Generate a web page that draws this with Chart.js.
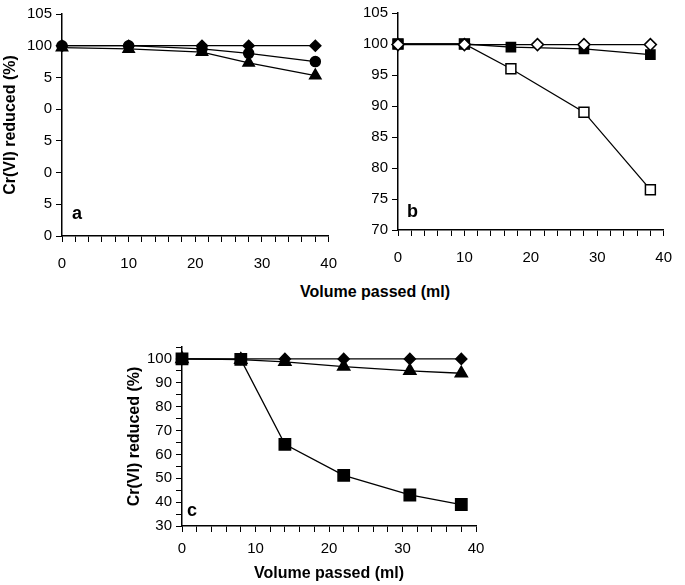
<!DOCTYPE html>
<html>
<head>
<meta charset="utf-8">
<script src="https://cdn.jsdelivr.net/npm/chart.js@4"></script>
<style>
  body { margin: 0; background: #fff; width: 685px; height: 585px; position: relative; overflow: hidden;
         font-family: "Liberation Sans", Arial, sans-serif; }
  canvas { position: absolute; }
  .tag { position: absolute; font-weight: bold; color: #000; font-size: 18px; line-height: 18px; }
  .xtitle { position: absolute; left: 275px; top: 282px; width: 200px; text-align: center;
            font-weight: bold; font-size: 16px; line-height: 20px; color: #000; }
</style>
</head>
<body>
<canvas id="chartA" width="350" height="270" style="left:0;top:0"></canvas>
<canvas id="chartB" width="345" height="270" style="left:340px;top:0"></canvas>
<canvas id="chartC" width="380" height="255" style="left:120px;top:330px"></canvas>
<div class="tag" style="left:72px;top:204px">a</div>
<div class="tag" style="left:407px;top:202px">b</div>
<div class="tag" style="left:187px;top:501px">c</div>
<div class="xtitle">Volume passed (ml)</div>

<script>
/* panel a */
const xA        = [0, 10, 21, 28, 38];
const aDiamond  = [100, 100, 100, 100, 100];
const aCircle   = [100, 100, 99.5, 98.8, 97.5];
const aTriangle = [99.7, 99.5, 99.0, 97.3, 95.3];
const yTicksA   = [70, 75, 80, 85, 90, 95, 100, 105];
const yLabelsA  = ['0', '5', '0', '5', '0', '5', '100', '105'];

/* panel b */
const xB            = [0, 10, 17, 28, 38];
const xBDiamond     = [0, 10, 21, 28, 38];
const bFilledSquare = [100, 100, 99.5, 99.2, 98.3];
const bOpenSquare   = [100, 100, 96.0, 89.0, 76.5];
const bOpenDiamond  = [99.9, 99.9, 99.9, 99.9, 99.9];

/* panel c */
const xC        = [0, 8, 14, 22, 31, 38];
const cDiamond  = [100, 100, 100, 100, 100, 100];
const cTriangle = [100, 99.7, 98.8, 96.8, 95.0, 94.0];
const cSquare   = [100, 99.8, 64.2, 51.2, 43.0, 39.0];

const Y_TITLE = 'Cr(VI) reduced (%)';

Chart.defaults.font.family = '"Liberation Sans", Arial, sans-serif';
Chart.defaults.font.size = 15;
Chart.defaults.color = '#000';

const pts = (xs, ys) => xs.map((x, i) => ({ x, y: ys[i] }));

function series(xs, ys, style, radius, open) {
  return {
    data: pts(xs, ys),
    borderColor: '#000',
    borderWidth: 1.3,
    pointStyle: style,
    pointRadius: radius,
    pointHoverRadius: radius,
    pointBackgroundColor: open ? '#fff' : '#000',
    pointBorderColor: '#000',
    pointBorderWidth: 1.5,
    tension: 0,
    clip: false,
  };
}

function makePanel(id, datasets, cfg) {
  return new Chart(document.getElementById(id), {
    type: 'line',
    data: { datasets },
    options: {
      responsive: false,
      animation: false,
      layout: { padding: { top: cfg.padTop, right: cfg.padRight, left: 0, bottom: 0 } },
      plugins: { legend: { display: false }, tooltip: { enabled: false } },
      scales: {
        x: {
          type: 'linear', min: 0, max: 40,
          border: { color: '#000', width: 1.5 },
          grid: { drawOnChartArea: false, drawTicks: true, tickLength: 6, color: '#000', lineWidth: 1 },
          ticks: {
            stepSize: 2, autoSkip: false, maxRotation: 0, padding: cfg.xPad,
            callback: v => (v % 10 === 0 ? v : ''),
          },
          title: cfg.xTitle ? { display: true, text: 'Volume passed (ml)', font: { size: 16, weight: 'bold' },
                                padding: { top: 0, bottom: 2 } } : { display: false },
          afterFit: s => { s.height = cfg.xHeight; },
        },
        y: {
          min: cfg.yMin, max: 105,
          border: { color: '#000', width: 1.5 },
          grid: { drawOnChartArea: false, drawTicks: true, tickLength: 6, color: '#000', lineWidth: 1 },
          ticks: {
            stepSize: 5, autoSkip: false, padding: 4,
            callback: cfg.yLabel,
          },
          afterBuildTicks: cfg.yTicks ? s => { s.ticks = cfg.yTicks.map(v => ({ value: v })); } : undefined,
          title: cfg.yTitle ? { display: true, text: Y_TITLE, font: { size: 16, weight: 'bold' },
                                padding: { top: cfg.yTitlePad, bottom: 0 } } : { display: false },
          afterFit: s => { s.width = cfg.yWidth; },
        },
      },
    },
  });
}

makePanel('chartA', [
  series(xA, aDiamond, 'rectRot', 5.5, false),
  series(xA, aCircle, 'circle', 5, false),
  series(xA, aTriangle, 'triangle', 6.5, false),
], {
  padTop: 14, padRight: 9, xHeight: 34, xPad: 13, yWidth: 62, yMin: 70,
  yTicks: yTicksA, yLabel: (v) => yLabelsA[yTicksA.indexOf(v)],
  yTitle: true, yTitlePad: 1, xTitle: false,
});

makePanel('chartB', [
  series(xBDiamond, bOpenDiamond, 'rectRot', 6, true),
  series(xB, bFilledSquare, 'rect', 6.5, false),
  series(xB, bOpenSquare, 'rect', 7, true),
], {
  padTop: 10, padRight: 10, xHeight: 40, xPad: 13, yWidth: 58, yMin: 70,
  yTicks: null, yLabel: v => v,
  yTitle: false, xTitle: false,
});

makePanel('chartC', [
  series(xC, cDiamond, 'rectRot', 5.5, false),
  series(xC, cTriangle, 'triangle', 7, false),
  series(xC, cSquare, 'rect', 8, false),
], {
  padTop: 17, padRight: 24, xHeight: 59, xPad: 8, yWidth: 62, yMin: 30,
  yTicks: null, yLabel: v => (v % 10 === 0 ? v : ''),
  yTitle: true, yTitlePad: 5, xTitle: true,
});
</script>
</body>
</html>
